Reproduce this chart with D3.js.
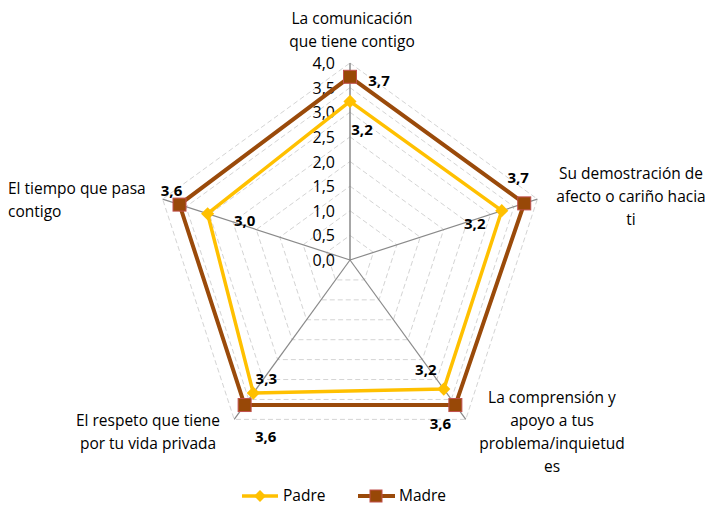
<!DOCTYPE html>
<html lang="es">
<head>
  <meta charset="UTF-8">
  <title>Radar Padre / Madre</title>
  <script src="https://d3js.org/d3.v7.min.js"></script>
  <style>
    body { margin: 0; background: #fff; }
    svg { display: block; }
    text { font-family: "Open Sans", "Liberation Sans", sans-serif; fill: #000; }
    .cat { font-size: 15.5px; }
    .tick { font-size: 16px; }
    .val { font-size: 15px; font-weight: bold; }
    .legend { font-size: 15.5px; }
  </style>
</head>
<body>
  <svg width="707" height="506"></svg>
  <script>
    // datos
    const categories = [
      ["La comunicación", "que tiene contigo"],
      ["Su demostración de", "afecto o cariño hacia", "ti"],
      ["La comprensión y", "apoyo a tus", "problema/inquietud", "es"],
      ["El respeto que tiene", "por tu vida privada"],
      ["El tiempo que pasa", "contigo"]
    ];
    const padre = [3.22, 3.24, 3.24, 3.34, 3.04];
    const madre = [3.72, 3.72, 3.64, 3.64, 3.64];
    const ticks = [0, 0.5, 1, 1.5, 2, 2.5, 3, 3.5, 4];

    const width = 707, height = 506;
    const cx = 350, cy = 260;
    const svg = d3.select("svg");
    const r = d3.scaleLinear().domain([0, 4]).range([0, 197]);
    const fmt = v => d3.format(".1f")(v).replace(".", ",");

    const ang = i => (-90 + 72 * i) * Math.PI / 180;
    const pt = (i, v) => [cx + r(v) * Math.cos(ang(i)), cy + r(v) * Math.sin(ang(i))];

    // rejilla punteada
    ticks.slice(1).forEach(t => {
      svg.append("polygon")
        .attr("points", categories.map((c, i) => pt(i, t).join(",")).join(" "))
        .attr("fill", "none")
        .attr("stroke", "#d4d4d4")
        .attr("stroke-width", 1)
        .attr("stroke-dasharray", "5,3");
    });

    // ejes
    categories.forEach((c, i) => {
      const p = pt(i, 4);
      svg.append("line")
        .attr("x1", cx).attr("y1", cy)
        .attr("x2", p[0]).attr("y2", p[1])
        .attr("stroke", "#8a8a8a")
        .attr("stroke-width", i === 0 ? 1.5 : 1.2);
    });

    // etiquetas de escala
    svg.selectAll(".tick")
      .data(ticks)
      .enter().append("text")
      .attr("class", "tick")
      .attr("x", cx - 15)
      .attr("y", d => cy - r(d) + 6)
      .attr("text-anchor", "end")
      .text(d => fmt(d));

    // series
    const line = d3.line().curve(d3.curveLinearClosed);

    svg.append("path")
      .attr("d", line(padre.map((v, i) => pt(i, v))))
      .attr("fill", "none")
      .attr("stroke", "#ffc000")
      .attr("stroke-width", 3.5)
      .attr("stroke-linejoin", "round");

    svg.append("path")
      .attr("d", line(madre.map((v, i) => pt(i, v))))
      .attr("fill", "none")
      .attr("stroke", "#9a4a0a")
      .attr("stroke-width", 4);

    // marcadores
    padre.forEach((v, i) => {
      const p = pt(i, v);
      svg.append("path")
        .attr("d", d3.symbol(d3.symbolDiamond2, 110)())
        .attr("transform", `translate(${p[0]},${p[1]})`)
        .attr("fill", "#ffc000");
    });
    madre.forEach((v, i) => {
      const p = pt(i, v);
      svg.append("rect")
        .attr("x", p[0] - 6.5).attr("y", p[1] - 6.5)
        .attr("width", 13).attr("height", 13)
        .attr("fill", "#984807")
        .attr("stroke", "#c0504d")
        .attr("stroke-width", 1);
    });

    // etiquetas de valores (desplazamientos respecto al punto)
    const padreOff = [[12, 34], [-27, 18], [-18, -14], [13, -9], [37, 12]];
    const madreOff = [[29, 9], [-6, -20], [-15, 24], [21, 37], [-8, -9]];
    padre.forEach((v, i) => {
      const p = pt(i, v);
      svg.append("text").attr("class", "val")
        .attr("x", p[0] + padreOff[i][0]).attr("y", p[1] + padreOff[i][1])
        .attr("text-anchor", "middle").text(fmt(v));
    });
    madre.forEach((v, i) => {
      const p = pt(i, v);
      svg.append("text").attr("class", "val")
        .attr("x", p[0] + madreOff[i][0]).attr("y", p[1] + madreOff[i][1])
        .attr("text-anchor", "middle").text(fmt(v));
    });

    // categorias
    const catPos = [
      { x: 352, y: 24, anchor: "middle" },
      { x: 631, y: 179, anchor: "middle" },
      { x: 552, y: 403, anchor: "middle" },
      { x: 148, y: 426, anchor: "middle" },
      { x: 8, y: 194, anchor: "start" }
    ];
    categories.forEach((lines, i) => {
      const t = svg.append("text").attr("class", "cat")
        .attr("text-anchor", catPos[i].anchor);
      lines.forEach((s, k) => {
        t.append("tspan")
          .attr("x", catPos[i].x)
          .attr("y", catPos[i].y + k * 23)
          .text(s);
      });
    });

    // leyenda
    const lg = svg.append("g");
    lg.append("line").attr("x1", 242).attr("x2", 278).attr("y1", 496).attr("y2", 496)
      .attr("stroke", "#ffc000").attr("stroke-width", 3.5);
    lg.append("path").attr("d", d3.symbol(d3.symbolDiamond2, 90)())
      .attr("transform", "translate(260,496)").attr("fill", "#ffc000");
    lg.append("text").attr("class", "legend").attr("x", 283).attr("y", 501).text("Padre");

    lg.append("line").attr("x1", 358).attr("x2", 395).attr("y1", 496).attr("y2", 496)
      .attr("stroke", "#9a4a0a").attr("stroke-width", 4);
    lg.append("rect").attr("x", 370).attr("y", 490).attr("width", 12).attr("height", 12)
      .attr("fill", "#984807").attr("stroke", "#c0504d");
    lg.append("text").attr("class", "legend").attr("x", 399).attr("y", 501).text("Madre");
  </script>
</body>
</html>
